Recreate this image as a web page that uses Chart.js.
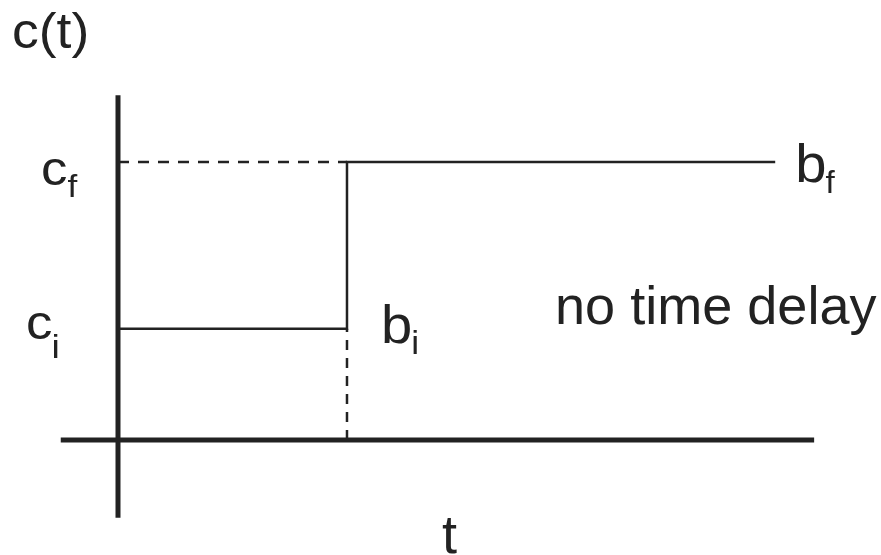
<!DOCTYPE html>
<html><head><meta charset="utf-8">
<script src="https://cdn.jsdelivr.net/npm/chart.js@4/dist/chart.umd.min.js"></script>
<style>html,body{margin:0;padding:0;background:#fff}#wrap{width:881px;height:555px}</style>
</head><body><div id="wrap"><canvas id="c" width="881" height="555"></canvas></div>
<script>
// ---- data ----
const stepTimes = [0, 1, 1, 2.87];          // t values of the response
const stepConc  = [1, 1, 2.5, 2.5];         // c(t): c_i then c_f
const levelLabels = ['c', 'c'];             // c_i, c_f
const levelSubs   = ['i', 'f'];
const pointLabels = ['b', 'b'];             // b_i, b_f
const pointSubs   = ['i', 'f'];
const timeAxisRange = [-0.25, 3.04];
const concAxisRange = [-0.7, 3.1];
const axisTitleY = 'c(t)';
const axisTitleX = 't';
const note = 'no time delay';

const ci = stepConc[0], cf = stepConc[2], tStep = stepTimes[1], tEnd = stepTimes[3];
const ink = '#222222';
const FONT = '"Liberation Sans", Arial, sans-serif';

const textPlugin = {
  id: 'textPlugin',
  afterDraw(chart) {
    const ctx = chart.ctx, xs = chart.scales.x, ys = chart.scales.y;
    ctx.save();
    ctx.fillStyle = ink;
    ctx.textBaseline = 'alphabetic';
    ctx.textAlign = 'left';
    function txt(s, x, y, size, sx) {
      ctx.save();
      ctx.font = size + 'px ' + FONT;
      ctx.translate(x, y);
      ctx.scale(sx, 1);
      ctx.fillText(s, 0, 0);
      const w = ctx.measureText(s).width * sx;
      ctx.restore();
      return w;
    }
    function sub(base, s, x, y, bs, ss, dx, dy, sx) {
      const w = txt(base, x, y, bs, sx);
      txt(s, x + w + dx, y + dy, ss, sx);
    }
    const x0 = xs.getPixelForValue(0);
    // level labels
    sub(levelLabels[1], levelSubs[1], x0 - 77, ys.getPixelForValue(cf) + 23, 48, 32, 0, 12, 1.1);
    sub(levelLabels[0], levelSubs[0], x0 - 92, ys.getPixelForValue(ci) + 10, 48, 34, -1, 19, 1.1);
    // point labels
    sub(pointLabels[0], pointSubs[0], xs.getPixelForValue(tStep) + 34, ys.getPixelForValue(ci) + 14, 54, 34, -1, 11, 1.04);
    sub(pointLabels[1], pointSubs[1], xs.getPixelForValue(tEnd) + 20, ys.getPixelForValue(cf) + 20, 54, 32, -1, 11, 1.04);
    // note
    txt(note, 555, ys.getPixelForValue(ci) - 5, 53, 1.02);
    // axis titles
    txt(axisTitleY, 12, 48, 50, 1.07);
    txt(axisTitleX, 442, 553, 54, 1.0);
    ctx.restore();
  }
};

const line = (data, w, dash) => ({
  data, borderColor: ink, backgroundColor: ink, borderWidth: w,
  borderDash: dash || [], pointRadius: 0, showLine: true, fill: false, tension: 0
});

new Chart(document.getElementById('c'), {
  type: 'scatter',
  data: {
    datasets: [
      line(timeAxisRange.map(t => ({x: t, y: 0})), 5),
      line(concAxisRange.map(c => ({x: 0, y: c})), 5),
      line([{x: 0, y: cf}, {x: tStep, y: cf}], 2.5, [11, 9]),
      line([{x: tStep, y: 0}, {x: tStep, y: ci}], 2.5, [10, 8]),
      line(stepTimes.map((t, i) => ({x: t, y: stepConc[i]})), 2.5)
    ]
  },
  options: {
    responsive: false, animation: false, devicePixelRatio: 1,
    layout: {padding: 0},
    plugins: {legend: {display: false}, tooltip: {enabled: false}, title: {display: false}},
    scales: {
      x: {type: 'linear', display: false, min: -0.5153, max: 3.332},
      y: {type: 'linear', display: false, min: -1.034, max: 3.957}
    }
  },
  plugins: [textPlugin]
});
</script></body></html>
